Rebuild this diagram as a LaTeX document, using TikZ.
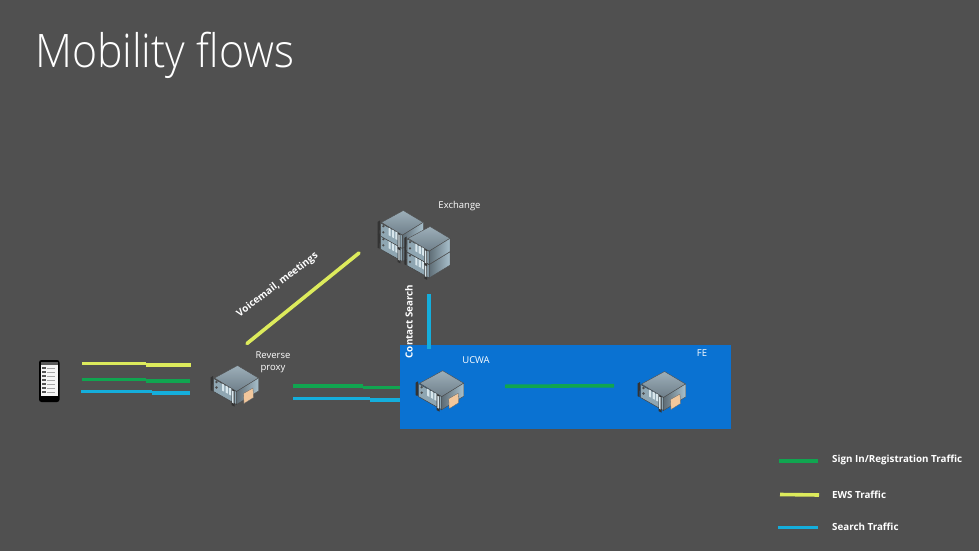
\documentclass[tikz,border=0pt]{standalone}
\usepackage{fontspec}
\setmainfont{Open Sans}
\newfontfamily\lightfont{Open Sans Light}
\definecolor{bgc}{HTML}{505050}
\definecolor{azure}{HTML}{0A72D2}
\definecolor{ewsc}{HTML}{DDEB5C}
\definecolor{signc}{HTML}{10A550}
\definecolor{srchc}{HTML}{14AEDC}
\definecolor{topa}{HTML}{9DAFB9}
\definecolor{topb}{HTML}{6F7F8A}
\definecolor{sidea}{HTML}{5F6D76}
\definecolor{sideb}{HTML}{A8C0CC}
\definecolor{fronta}{HTML}{8FA6B2}
\definecolor{barc}{HTML}{D8E6EC}
\definecolor{tagc}{HTML}{F2C79C}
\tikzset{
  flow/.style={line width=3.6pt},
  lbl/.style={text=white,font=\fontsize{9.5}{12}\selectfont,inner sep=0pt,align=center},
  bold/.style={text=white,font=\bfseries\fontsize{9.8}{12}\selectfont,inner sep=0pt},
}
% #1 x, #2 y (top apex), #3 body height, #4 scale, #5 tag
\newcommand{\srv}[5]{%
\begin{scope}[shift={(#1,#2)},scale=#4]
  \fill[black!80] (-27,12) -- (-24.5,10.5) -- (-24.5,12) -- (-25,12.5+#3) -- (-27,11.5+#3) -- cycle;
  \path[top color=topa,bottom color=topb,draw=black!70,line width=.4pt] (0,0) -- (21,12.5) -- (-1,26) -- (-23,12.5) -- cycle;
  \path[left color=sidea,right color=sideb,draw=black!70,line width=.4pt] (-1,26) -- (21,12.5) -- (21,12.5+#3) -- (-1,26+#3) -- cycle;
  \path[fill=fronta,draw=black!75,line width=.5pt] (-24,13) -- (-1,26) -- (-1,26+#3) -- (-24,13+#3) -- cycle;
  \foreach \k in {0,1,2}{
    \fill[barc] (-15.5+\k*3.6,18+\k*2) -- ++(2.2,1.2) -- ++(0,-6+#3) -- ++(-2.2,-1.2) -- cycle;
  }
  \fill[black!70] (-21,16.5) circle (1.3) (-21,13+#3-4) circle (1.3);
  \fill[black!80] (-6,23.5) -- (-3,25) -- (-3,28+#3) -- (-6,26.5+#3) -- cycle;
  \fill[barc] (-5.3,25) -- (-3.8,25.8) -- (-3.8,25+#3) -- (-5.3,24.2+#3) -- cycle;
  \ifnum#5=1
  \path[fill=tagc,draw=black!60,line width=.3pt] (6,28) -- (15.5,22.5) -- (16,32) -- (6.5,38) -- cycle;
  \fi
\end{scope}}
\begin{document}
\begin{tikzpicture}[x=1pt,y=-1pt]
\useasboundingbox (0,0) rectangle (979,551);
\fill[bgc] (0,0) rectangle (979,551);

\node[anchor=west,text=white,inner sep=0pt,font=\lightfont\fontsize{44}{50}\selectfont,xscale=.972,yscale=1.05] (title) at (35,55.5) {Mobility flows};

\coordinate (a1) at (82,363.5); \coordinate (a2) at (146,363.5); \coordinate (a3) at (146,364.8); \coordinate (a4) at (191,364.8);
\coordinate (b1) at (82,379.5); \coordinate (b2) at (146,379.5); \coordinate (b3) at (146,380.8); \coordinate (b4) at (190,380.8);
\coordinate (c1) at (81,391.3); \coordinate (c2) at (152,391.3); \coordinate (c3) at (152,392.8); \coordinate (c4) at (190,392.8);
\coordinate (d1) at (293,386); \coordinate (d2) at (363,386); \coordinate (d3) at (363,387.5); \coordinate (d4) at (402,387.5);
\coordinate (e1) at (293,398.5); \coordinate (e2) at (370,398.5); \coordinate (e3) at (370,400); \coordinate (e4) at (402,400);

\draw[flow,ewsc] (a1)--(a2) (a3)--(a4);
\draw[flow,signc] (b1)--(b2) (b3)--(b4);
\draw[flow,srchc] (c1)--(c2) (c3)--(c4);
\draw[flow,signc] (d1)--(d2) (d3)--(d4);
\draw[flow,srchc] (e1)--(e2) (e3)--(e4);

\fill[azure] (400,345) rectangle (731,429);

\coordinate (f1) at (505,386.3); \coordinate (f2) at (614,385.7);
\draw[flow,signc] (f1)--(f2);
\coordinate (g1) at (429,294); \coordinate (g2) at (429,349);
\draw[flow,srchc] (g1)--(g2);
\coordinate (h1) at (247,343.5); \coordinate (h2) at (359,253);
\draw[flow,ewsc,line cap=round] (h1)--(h2);

% phone
\fill[black,rounded corners=2.5pt] (39,360) rectangle (59.5,402);
\fill[white!92!gray] (41,364) rectangle (57.5,396);
\fill[gray!70!black] (41,361.5) rectangle (57.5,364.5);
\foreach \y in {367,371,375,379,383,387,391}{
  \fill[gray!65!black] (41.8,\y) rectangle (45.5,\y+2.2);
  \draw[gray!70,line width=.4pt] (47,\y+1) -- (55,\y+1);
}

% servers (lower units first)
\srv{403.3}{223.5}{14}{0.95}{0}
\srv{403.3}{210.5}{14}{0.95}{0}
\srv{430}{240}{14}{0.95}{0}
\srv{430}{226.5}{14}{0.95}{0}
\srv{237.5}{365.5}{13}{1}{1}
\srv{442.7}{370.7}{13}{1}{1}
\srv{664.5}{371.5}{13}{1}{1}

\node[lbl] (exch) at (459.5,206.5) {Exchange};
\node[lbl,font=\fontsize{9.5}{11.5}\selectfont] (rp) at (273,362) {Reverse\\proxy};
\node[lbl] (ucwa) at (476,360.5) {UCWA};
\node[lbl] (fe) at (702,353) {FE};
\node[bold,rotate=90] (cs) at (409,321.5) {Contact Search};
\node[bold,rotate=37.5,font=\bfseries\fontsize{9.9}{12}\selectfont] (vm) at (277.5,285) {Voicemail, meetings};

\coordinate (l1) at (779,461); \coordinate (l2) at (818,461);
\coordinate (m1) at (780,494.5); \coordinate (m2) at (819,495);
\coordinate (n1) at (778,527.5); \coordinate (n2) at (818,527.5);
\draw[flow,signc] (l1)--(l2);
\draw[flow,ewsc] (m1)--(m2);
\draw[flow,srchc] (n1)--(n2);
\node[bold,anchor=west] (ls) at (832,459.5) {Sign In/Registration Traffic};
\node[bold,anchor=west] (le) at (832,494.5) {EWS Traffic};
\node[bold,anchor=west] (lc) at (832,526.5) {Search Traffic};
\end{tikzpicture}
\end{document}
